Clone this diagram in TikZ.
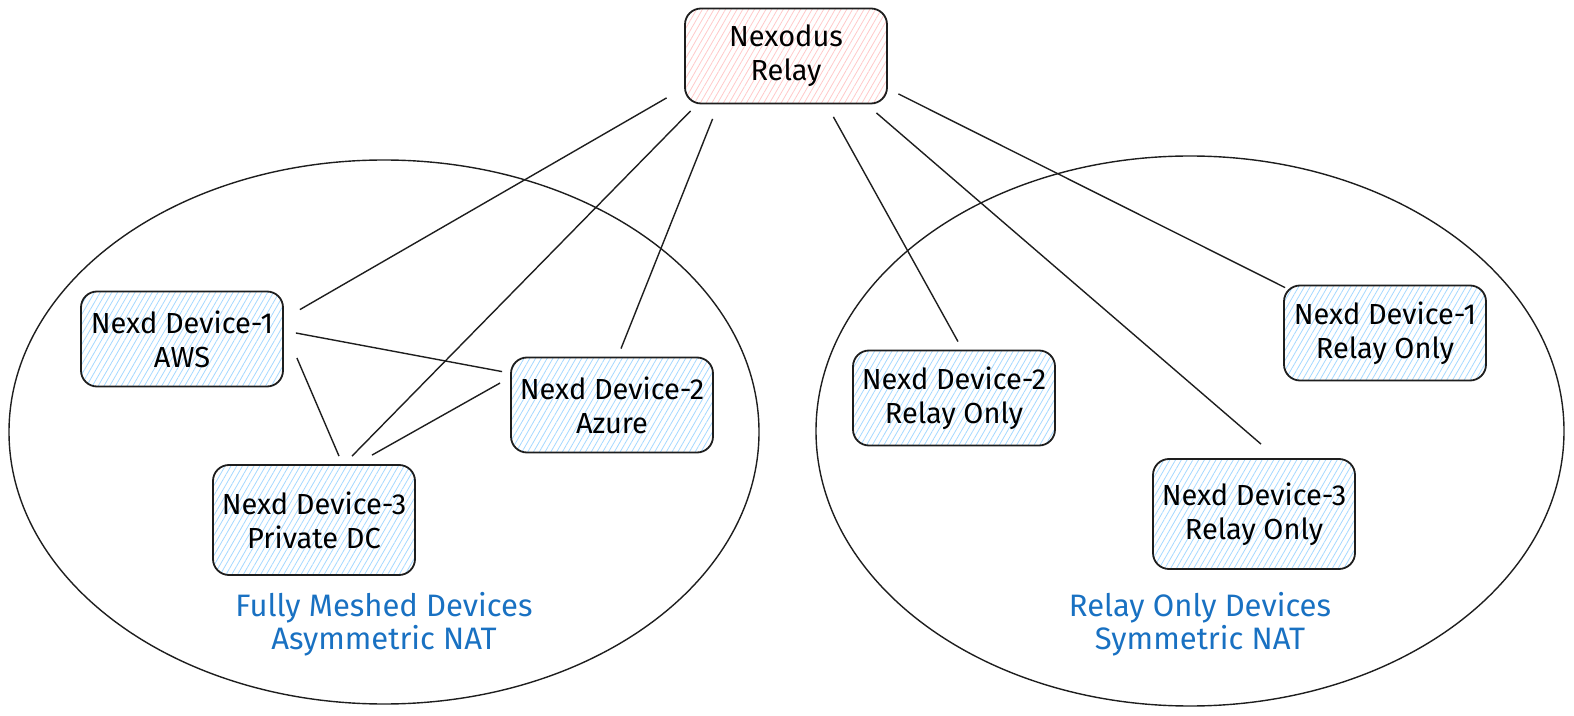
\documentclass[tikz,border=0pt]{standalone}
\usepackage{fontspec}
\setmainfont{Fira Sans}
\usetikzlibrary{patterns.meta}
\definecolor{hatchblue}{HTML}{A5D8FF}
\definecolor{hatchred}{HTML}{FFC9C9}
\definecolor{labelblue}{HTML}{1971C2}
\definecolor{inkgray}{HTML}{1E1E1E}
\tikzset{
	device/.style={draw=inkgray, line width=0.9pt, rounded corners=8pt, align=center,
		font=\fontsize{14.5}{17}\selectfont, inner sep=0pt,
		pattern={Lines[angle=60,distance=2.5pt,line width=0.4pt]}, pattern color=hatchblue,
		minimum width=101pt, minimum height=47.5pt},
	relaybox/.style={device, pattern color=hatchred},
	link/.style={draw=inkgray, line width=0.7pt},
	grouplabel/.style={align=center, text=labelblue, font=\fontsize{15.5}{16.5}\selectfont}
}
\begin{document}
\begin{tikzpicture}[x=0.5pt,y=-0.5pt]
		\useasboundingbox (0,0) rectangle (1574,716);
		%Grupos
		\draw[link] (384,432) ellipse [x radius=187.5pt, y radius=136pt];
		\draw[link] (1190,431) ellipse [x radius=187pt, y radius=137.5pt];
		
		\node[relaybox] (relay) at (786,56) {Nexodus\\Relay};
		\node[device] (aws) at (182,339) {Nexd Device-1\\AWS};
		\node[device] (azure) at (612,405) {Nexd Device-2\\Azure};
		\node[device, minimum height=55pt] (dc) at (314,520) {Nexd Device-3\\Private DC};
		\node[device] (ro2) at (954,398) {Nexd Device-2\\Relay Only};
		\node[device] (ro1) at (1385,333) {Nexd Device-1\\Relay Only};
		\node[device, minimum height=55pt] (ro3) at (1254,514) {Nexd Device-3\\Relay Only};
		
		\node[grouplabel] (meshlabel) at (384,624) {Fully Meshed Devices\\Asymmetric NAT};
		\node[grouplabel] (relaylabel) at (1200,624) {Relay Only Devices\\Symmetric NAT};
		
		%Enlaces del relay
		\draw[link] ([shift={(-18,-6)}]relay.south west) -- ([shift={(16,19)}]aws.north east);
		\draw[link] ([shift={(6,7)}]relay.south west) -- ([shift={(38,-8)}]dc.north);
		\draw[link] ([shift={(28,15)}]relay.south west) -- ([shift={(9,-8)}]azure.north);
		\draw[link] ([shift={(-54,13)}]relay.south east) -- ([shift={(4,-8)}]ro2.north);
		\draw[link] ([shift={(-11,9)}]relay.south east) -- ([shift={(7,-14)}]ro3.north);
		\draw[link] ([shift={(11,-10)}]relay.south east) -- ([shift={(2,3)}]ro1.north west);
		%Malla
		\draw[link] ([shift={(12,-6)}]aws.east) -- ([shift={(-8,15)}]azure.north west);
		\draw[link] ([shift={(13,19)}]aws.east) -- ([shift={(25,-8)}]dc.north);
		\draw[link] ([shift={(-10,-22)}]azure.west) -- ([shift={(58,-9)}]dc.north);
		
	\end{tikzpicture}
\end{document}
